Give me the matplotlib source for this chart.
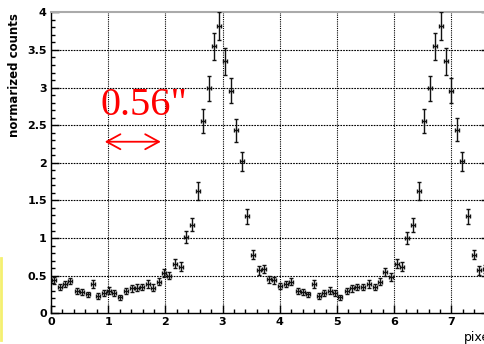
import matplotlib
matplotlib.use("Agg")
import matplotlib.pyplot as plt
from matplotlib.lines import Line2D
from matplotlib.ticker import MultipleLocator

# ---- data ----
x_pix = [0.05, 0.15, 0.25, 0.34, 0.45, 0.54, 0.64, 0.74, 0.83, 0.92,
         1.01, 1.11, 1.21, 1.31, 1.41, 1.50, 1.59, 1.70, 1.79, 1.88,
         1.98, 2.07, 2.17, 2.27, 2.36, 2.46, 2.57, 2.65, 2.76, 2.85,
         2.94, 3.05, 3.14, 3.24, 3.34, 3.43, 3.53, 3.63, 3.72, 3.81,
         3.90, 4.00, 4.10, 4.19, 4.31, 4.41, 4.50, 4.59, 4.69, 4.77,
         4.88, 4.97, 5.06, 5.17, 5.26, 5.35, 5.46, 5.56, 5.66, 5.75,
         5.84, 5.94, 6.04, 6.14, 6.23, 6.33, 6.43, 6.52, 6.62, 6.71,
         6.81, 6.90, 7.00, 7.10, 7.19, 7.29, 7.39, 7.49, 7.58]
counts = [0.44, 0.35, 0.39, 0.43, 0.30, 0.28, 0.25, 0.39, 0.23, 0.27,
          0.30, 0.27, 0.21, 0.30, 0.33, 0.34, 0.35, 0.39, 0.34, 0.42,
          0.54, 0.50, 0.66, 0.62, 1.02, 1.18, 1.62, 2.56, 2.99, 3.55,
          3.82, 3.35, 2.96, 2.43, 2.02, 1.29, 0.78, 0.57, 0.59, 0.45,
          0.44, 0.36, 0.39, 0.42, 0.30, 0.28, 0.25, 0.39, 0.23, 0.27,
          0.30, 0.27, 0.21, 0.30, 0.33, 0.35, 0.35, 0.39, 0.35, 0.42,
          0.55, 0.48, 0.66, 0.62, 1.00, 1.17, 1.62, 2.56, 2.99, 3.55,
          3.82, 3.35, 2.96, 2.44, 2.02, 1.29, 0.78, 0.57, 0.59]
errs = [0.045, 0.040, 0.045, 0.045, 0.040, 0.040, 0.035, 0.055, 0.035, 0.040,
        0.045, 0.040, 0.035, 0.040, 0.045, 0.045, 0.045, 0.050, 0.045, 0.050,
        0.055, 0.050, 0.060, 0.060, 0.080, 0.090, 0.120, 0.160, 0.170, 0.180,
        0.190, 0.180, 0.170, 0.150, 0.130, 0.100, 0.065, 0.055, 0.055, 0.045,
        0.045, 0.040, 0.045, 0.045, 0.040, 0.040, 0.035, 0.055, 0.035, 0.040,
        0.045, 0.040, 0.035, 0.040, 0.045, 0.045, 0.045, 0.050, 0.045, 0.050,
        0.055, 0.050, 0.060, 0.060, 0.080, 0.090, 0.120, 0.160, 0.170, 0.180,
        0.190, 0.180, 0.170, 0.150, 0.130, 0.100, 0.065, 0.055, 0.055]
x_ticks = [0, 1, 2, 3, 4, 5, 6, 7]
y_ticks = [0, 0.5, 1, 1.5, 2, 2.5, 3, 3.5, 4]
y_ticklabels = ["0", "0.5", "1", "1.5", "2", "2.5", "3", "3.5", "4"]
arrow_span = (0.94, 1.92)
arrow_y = 2.28
label_text = '0.56"'

W, H = 485, 344
fig = plt.figure(figsize=(W / 100, H / 100), dpi=100)
ax = fig.add_axes([51 / W, (H - 313.3) / H, 437.6 / W, 301 / H])
ax.set_xlim(0, 7.65)
ax.set_ylim(0, 4)

# grid
for xv in x_ticks[1:]:
    ax.axvline(xv, color="black", lw=0.8, ls=(0, (1, 1)), zorder=1)
for yv in y_ticks[1:-1]:
    ax.axhline(yv, color="black", lw=0.8, ls=(0, (1.5, 1)), zorder=1)

ax.errorbar(x_pix, counts, yerr=errs, xerr=0.035, fmt="none",
            ecolor="#111111", elinewidth=1.0, capsize=1.2, capthick=1.0,
            zorder=3)

ax.set_xticks(x_ticks)
ax.set_xticklabels([str(v) for v in x_ticks])
ax.set_yticks(y_ticks)
ax.set_yticklabels(y_ticklabels)
ax.xaxis.set_minor_locator(MultipleLocator(0.2))
ax.yaxis.set_minor_locator(MultipleLocator(0.1))
ax.tick_params(axis="both", which="major", direction="in", length=6,
               width=1, labelsize=8, pad=3, right=True, top=False)
ax.tick_params(axis="both", which="minor", direction="in", length=3,
               width=1, right=True, top=False)
for lab in ax.get_xticklabels() + ax.get_yticklabels():
    lab.set_fontweight("bold")

ax.spines["top"].set_color("#aaaaaa")
ax.spines["top"].set_linewidth(1.5)
for s in ("left", "bottom", "right"):
    ax.spines[s].set_linewidth(1.0)

fig.text(15 / W, 1 - 13 / H, "normarized counts", rotation=90,
         ha="center", va="top", fontsize=8.5, fontweight="bold")
fig.text(494 / W, 1 - 338 / H, "pixel", ha="right", va="center", fontsize=9)

# red annotation
ax.annotate("", xy=(arrow_span[0], arrow_y), xytext=(arrow_span[1], arrow_y),
            arrowprops=dict(arrowstyle="<->,head_length=0.55,head_width=0.3",
                            color="red", lw=1.3, mutation_scale=18,
                            shrinkA=0, shrinkB=0), zorder=4)
ax.text(0.86, 2.635, label_text, color="red", fontsize=29,
        family="Liberation Serif", ha="left", va="baseline", zorder=4)

# yellow edge at the left
fig.add_artist(Line2D([1.2 / W, 1.2 / W], [1 - 258 / H, 1 - 340 / H],
                      color="#f4f070", lw=2))

fig.savefig("out.png", dpi=100)
